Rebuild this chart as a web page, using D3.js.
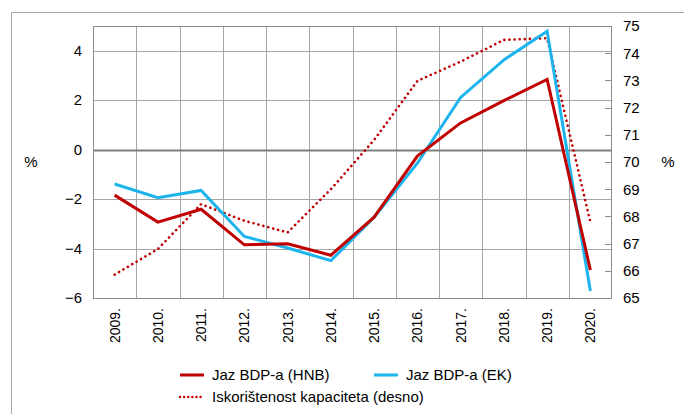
<!DOCTYPE html>
<html>
<head>
<meta charset="utf-8">
<script src="https://cdn.jsdelivr.net/npm/d3@7"></script>
<style>
  body { margin: 0; background: #fff; }
  svg { display: block; font-family: "Liberation Sans", Arial, sans-serif; }
</style>
</head>
<body>
<svg id="chart" width="684" height="414"></svg>
<script>
const years = ["2009.", "2010.", "2011.", "2012.", "2013.", "2014.", "2015.", "2016.", "2017.", "2018.", "2019.", "2020."];
const jazHNB = [-1.84, -2.93, -2.41, -3.85, -3.81, -4.27, -2.73, -0.26, 1.08, 1.98, 2.84, -4.87];
const jazEK = [-1.39, -1.94, -1.65, -3.51, -3.98, -4.49, -2.73, -0.55, 2.11, 3.63, 4.79, -5.72];
const kapacitet = [65.86, 66.80, 68.45, 67.84, 67.41, 69.0, 70.81, 72.98, 73.69, 74.49, 74.55, 67.79];
const leftTicks = [-6, -4, -2, 0, 2, 4];
const rightTicks = [65, 66, 67, 68, 69, 70, 71, 72, 73, 74, 75];

const red = "#c00000", cyan = "#1cb4ec", grid = "#a6a6a6";
const m = { left: 93, right: 612, top: 26, bottom: 298 };

const svg = d3.select("#chart");

// outer frame (top and left edges)
svg.append("path")
  .attr("d", "M11.5,414 V12.5 H684")
  .attr("fill", "none").attr("stroke", "#a6a6a6");

const x = d3.scaleBand().domain(years).range([m.left, m.right]);
const yL = d3.scaleLinear().domain([-6, 5]).range([m.bottom, m.top]);
const yR = d3.scaleLinear().domain([65, 75]).range([m.bottom, m.top]);

// vertical gridlines between categories
svg.append("g").selectAll("line")
  .data(years.slice(1))
  .join("line")
  .attr("x1", d => Math.round(x(d)) + 0.5).attr("x2", d => Math.round(x(d)) + 0.5)
  .attr("y1", m.top).attr("y2", m.bottom)
  .attr("stroke", grid).attr("stroke-width", 1);

// horizontal gridlines
svg.append("g").selectAll("line")
  .data(leftTicks.filter(d => d !== -6))
  .join("line")
  .attr("x1", m.left).attr("x2", m.right)
  .attr("y1", d => Math.round(yL(d)) + 0.5).attr("y2", d => Math.round(yL(d)) + 0.5)
  .attr("stroke", d => d === 0 ? "#7f7f7f" : grid)
  .attr("stroke-width", d => d === 0 ? 2 : 1);

// plot border
svg.append("rect")
  .attr("x", m.left + 0.5).attr("y", m.top + 0.5)
  .attr("width", m.right - m.left - 1).attr("height", m.bottom - m.top)
  .attr("fill", "none").attr("stroke", "#8c8c8c");

// left axis
const gL = svg.append("g")
  .attr("transform", `translate(${m.left},0)`)
  .call(d3.axisLeft(yL).tickValues(leftTicks).tickSize(0).tickPadding(11)
    .tickFormat(d => d < 0 ? "\u2212" + Math.abs(d) : d));
gL.select(".domain").remove();
gL.selectAll("text").attr("font-size", 15).attr("fill", "#000")
  .style("font-family", "Liberation Sans, Arial, sans-serif");

// right axis, ticks pointing inside
const gR = svg.append("g")
  .attr("transform", `translate(${m.right},0)`)
  .call(d3.axisRight(yR).tickValues(rightTicks).tickSize(0).tickPadding(11));
gR.select(".domain").remove();
gR.selectAll("text").attr("font-size", 15).attr("fill", "#000")
  .style("font-family", "Liberation Sans, Arial, sans-serif");
svg.append("g").selectAll("line")
  .data(rightTicks.slice(1, -1))
  .join("line")
  .attr("x1", m.right - 7).attr("x2", m.right)
  .attr("y1", d => Math.round(yR(d)) + 0.5).attr("y2", d => Math.round(yR(d)) + 0.5)
  .attr("stroke", "#8c8c8c");

// x axis labels
const gX = svg.append("g")
  .attr("transform", `translate(0,${m.bottom})`)
  .call(d3.axisBottom(x).tickSize(0).tickPadding(0));
gX.select(".domain").remove();
gX.selectAll("text")
  .attr("font-size", 14).attr("fill", "#000")
  .style("font-family", "Liberation Sans, Arial, sans-serif")
  .attr("transform", "rotate(-90)")
  .attr("text-anchor", "end")
  .attr("x", -10).attr("y", 0).attr("dy", "0.35em");

// % labels
svg.append("text").attr("x", 31).attr("y", 162).attr("dy", "0.35em")
  .attr("text-anchor", "middle").attr("font-size", 15).text("%");
svg.append("text").attr("x", 668).attr("y", 162).attr("dy", "0.35em")
  .attr("text-anchor", "middle").attr("font-size", 15).text("%");

const cx = (d, i) => x(years[i]) + x.bandwidth() / 2;

svg.append("path")
  .datum(kapacitet)
  .attr("d", d3.line().x(cx).y(d => yR(d)))
  .attr("fill", "none").attr("stroke", red).attr("stroke-width", 2.6)
  .attr("stroke-linecap", "round").attr("stroke-dasharray", "0.1 5");

svg.append("path")
  .datum(jazEK)
  .attr("d", d3.line().x(cx).y(d => yL(d)))
  .attr("fill", "none").attr("stroke", cyan).attr("stroke-width", 3);

svg.append("path")
  .datum(jazHNB)
  .attr("d", d3.line().x(cx).y(d => yL(d)))
  .attr("fill", "none").attr("stroke", red).attr("stroke-width", 3);

// legend
const legend = [
  { label: "Jaz BDP-a (HNB)", color: red, dash: null, x: 180, y: 375 },
  { label: "Jaz BDP-a (EK)", color: cyan, dash: null, x: 374, y: 375 },
  { label: "Iskorištenost kapaciteta (desno)", color: red, dash: "0.1 4", x: 180, y: 397 }
];
const lg = svg.append("g").selectAll("g").data(legend).join("g")
  .attr("transform", d => `translate(${d.x},${d.y})`);
lg.append("line")
  .attr("x1", 0).attr("x2", 24).attr("y1", 0).attr("y2", 0)
  .attr("stroke", d => d.color).attr("stroke-width", d => d.dash ? 2.4 : 3)
  .attr("stroke-linecap", d => d.dash ? "round" : "butt")
  .attr("stroke-dasharray", d => d.dash);
lg.append("text")
  .attr("x", 32).attr("dy", "0.35em").attr("font-size", 15).text(d => d.label);
</script>
</body>
</html>
